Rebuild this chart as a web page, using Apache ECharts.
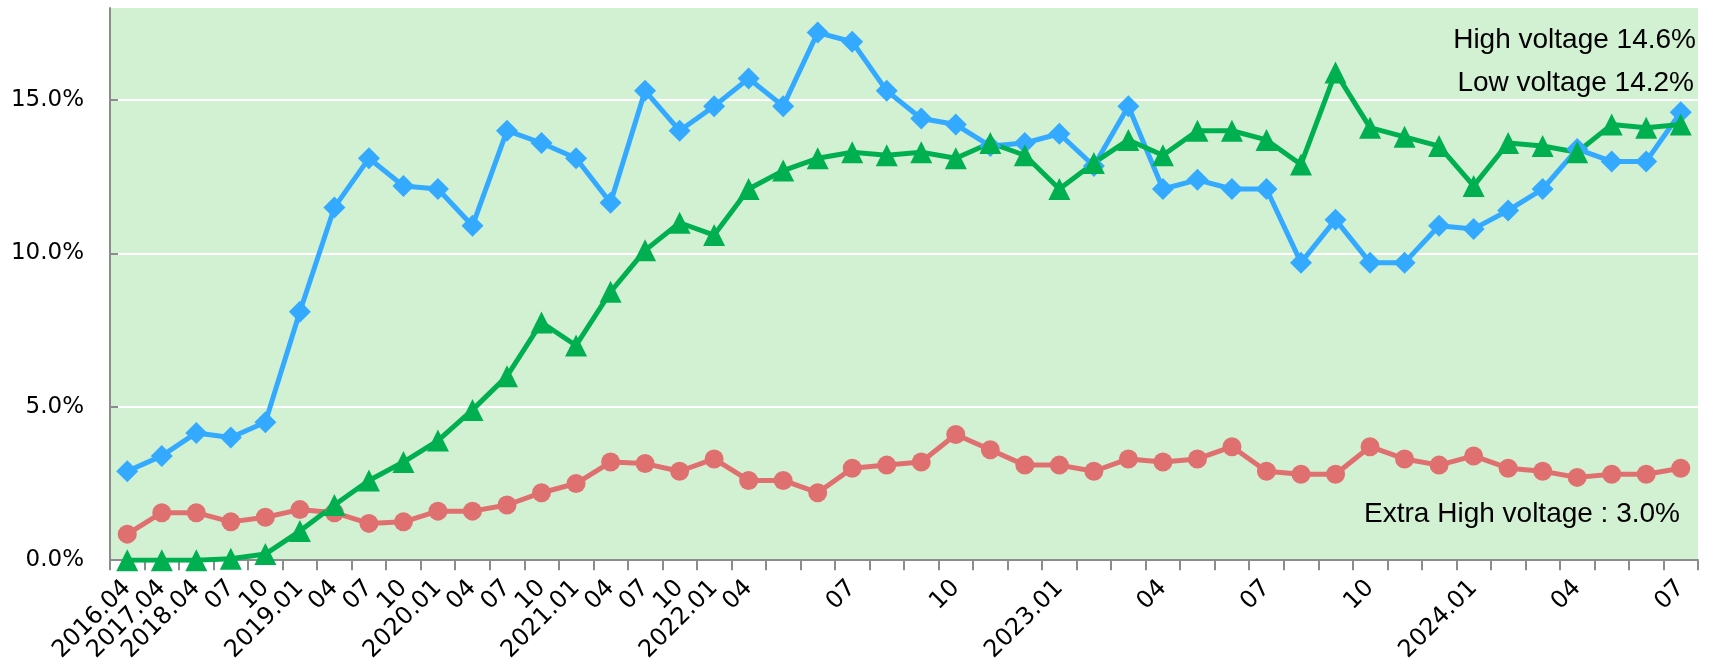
<!DOCTYPE html>
<html lang="en">

<head>
    <meta charset="UTF-8">
    <title>Voltage share</title>
    <script src="https://cdn.jsdelivr.net/npm/echarts@6.0.0/dist/echarts.min.js"></script>
    <style>
        html, body { margin: 0; padding: 0; background: #fff; }
    </style>
</head>

<body>
    <div id="main" style="width: 1710px;height:665px;"></div>

    <script type="text/javascript">
        // months on the x axis
        const categories = [
            '2016.04', '2017.04', '2018.04', '2018.07', '2018.10',
            '2019.01', '2019.04', '2019.07', '2019.10',
            '2020.01', '2020.04', '2020.07', '2020.10',
            '2021.01', '2021.04', '2021.07', '2021.10',
            '2022.01', '2022.04', '2022.05', '2022.06', '2022.07', '2022.08', '2022.09',
            '2022.10', '2022.11', '2022.12',
            '2023.01', '2023.02', '2023.03', '2023.04', '2023.05', '2023.06', '2023.07',
            '2023.08', '2023.09', '2023.10', '2023.11', '2023.12',
            '2024.01', '2024.02', '2024.03', '2024.04', '2024.05', '2024.06', '2024.07'
        ];

        // text printed under each tick ('' = no label)
        const tickLabels = [
            '2016.04', '2017.04', '2018.04', '07', '10',
            '2019.01', '04', '07', '10',
            '2020.01', '04', '07', '10',
            '2021.01', '04', '07', '10',
            '2022.01', '04', '', '', '07', '', '',
            '10', '', '',
            '2023.01', '', '', '04', '', '', '07',
            '', '', '10', '', '',
            '2024.01', '', '', '04', '', '', '07'
        ];

        const highVoltage = [
            2.9, 3.4, 4.15, 4.0, 4.5, 8.1, 11.5, 13.1, 12.2, 12.1,
            10.9, 14.0, 13.6, 13.1, 11.65, 15.3, 14.0, 14.8, 15.7, 14.8,
            17.2, 16.9, 15.3, 14.4, 14.2, 13.5, 13.6, 13.9, 12.85, 14.8,
            12.1, 12.4, 12.1, 12.1, 9.7, 11.1, 9.7, 9.7, 10.9, 10.8,
            11.4, 12.1, 13.4, 13.0, 13.0, 14.6
        ];

        const lowVoltage = [
            0.0, 0.0, 0.0, 0.05, 0.2, 0.95, 1.8, 2.6, 3.2, 3.9,
            4.9, 6.0, 7.75, 7.0, 8.75, 10.1, 11.0, 10.6, 12.1, 12.7,
            13.1, 13.3, 13.2, 13.3, 13.1, 13.6, 13.2, 12.1, 12.95, 13.7,
            13.2, 14.0, 14.0, 13.7, 12.9, 15.9, 14.1, 13.8, 13.5, 12.2,
            13.6, 13.5, 13.3, 14.2, 14.1, 14.2
        ];

        const extraHighVoltage = [
            0.85, 1.55, 1.55, 1.25, 1.4, 1.65, 1.55, 1.2, 1.25, 1.6,
            1.6, 1.8, 2.2, 2.5, 3.2, 3.15, 2.9, 3.3, 2.6, 2.6,
            2.2, 3.0, 3.1, 3.2, 4.1, 3.6, 3.1, 3.1, 2.9, 3.3,
            3.2, 3.3, 3.7, 2.9, 2.8, 2.8, 3.7, 3.3, 3.1, 3.4,
            3.0, 2.9, 2.7, 2.8, 2.8, 3.0
        ];

        const axisFont = 'DejaVu Sans';
        const noteFont = 'Liberation Sans, Arial, sans-serif';

        let myChart = echarts.init(document.getElementById('main'));

        function lineSeries(name, data, color, symbol, size) {
            return {
                name: name,
                type: 'line',
                data: data,
                symbol: symbol,
                symbolSize: size,
                lineStyle: { color: color, width: 5 },
                itemStyle: { color: color },
                animation: false,
                z: 3
            };
        }

        let options = {
            grid: {
                left: 110, right: 12, top: 8, bottom: 104,
                show: true, backgroundColor: '#d2f0d2', borderWidth: 0
            },
            xAxis: {
                type: 'category',
                data: categories,
                boundaryGap: true,
                axisLine: { lineStyle: { color: '#8c8c8c', width: 2 } },
                axisTick: {
                    show: true, interval: 0, alignWithLabel: false,
                    length: 10, lineStyle: { color: '#8c8c8c', width: 2 }
                },
                axisLabel: {
                    interval: 0,
                    rotate: 45,
                    margin: 24,
                    fontFamily: axisFont,
                    fontSize: 24,
                    color: '#000',
                    formatter: (v, i) => tickLabels[i]
                }
            },
            yAxis: {
                type: 'value',
                min: 0,
                max: 18,
                interval: 5,
                axisLine: { show: true, lineStyle: { color: '#8c8c8c', width: 2 } },
                axisTick: { show: true, inside: true, length: 8, lineStyle: { color: '#8c8c8c', width: 2 } },
                splitLine: { show: true, showMaxLine: false, lineStyle: { color: '#ffffff', width: 2 } },
                axisLabel: {
                    margin: 26,
                    fontFamily: axisFont,
                    fontSize: 23,
                    color: '#000',
                    showMaxLabel: false,
                    formatter: v => (v % 5 === 0 ? v.toFixed(1) + '%' : '')
                }
            },
            series: [
                lineSeries('Extra High voltage', extraHighVoltage, '#e07070', 'circle', 19),
                lineSeries('High voltage', highVoltage, '#33aaff', 'diamond', 22),
                lineSeries('Low voltage', lowVoltage, '#00b050', 'triangle', 22)
            ],
            graphic: [
                {
                    type: 'text', right: 14, top: 26,
                    style: { text: 'High voltage 14.6%', font: '28px ' + noteFont, fill: '#000' }
                },
                {
                    type: 'text', right: 16, top: 69,
                    style: { text: 'Low voltage 14.2%', font: '28px ' + noteFont, fill: '#000' }
                },
                {
                    type: 'text', right: 30, top: 500,
                    style: { text: 'Extra High voltage : 3.0%', font: '28px ' + noteFont, fill: '#000' }
                }
            ]
        };

        myChart.setOption(options);
    </script>
</body>

</html>
